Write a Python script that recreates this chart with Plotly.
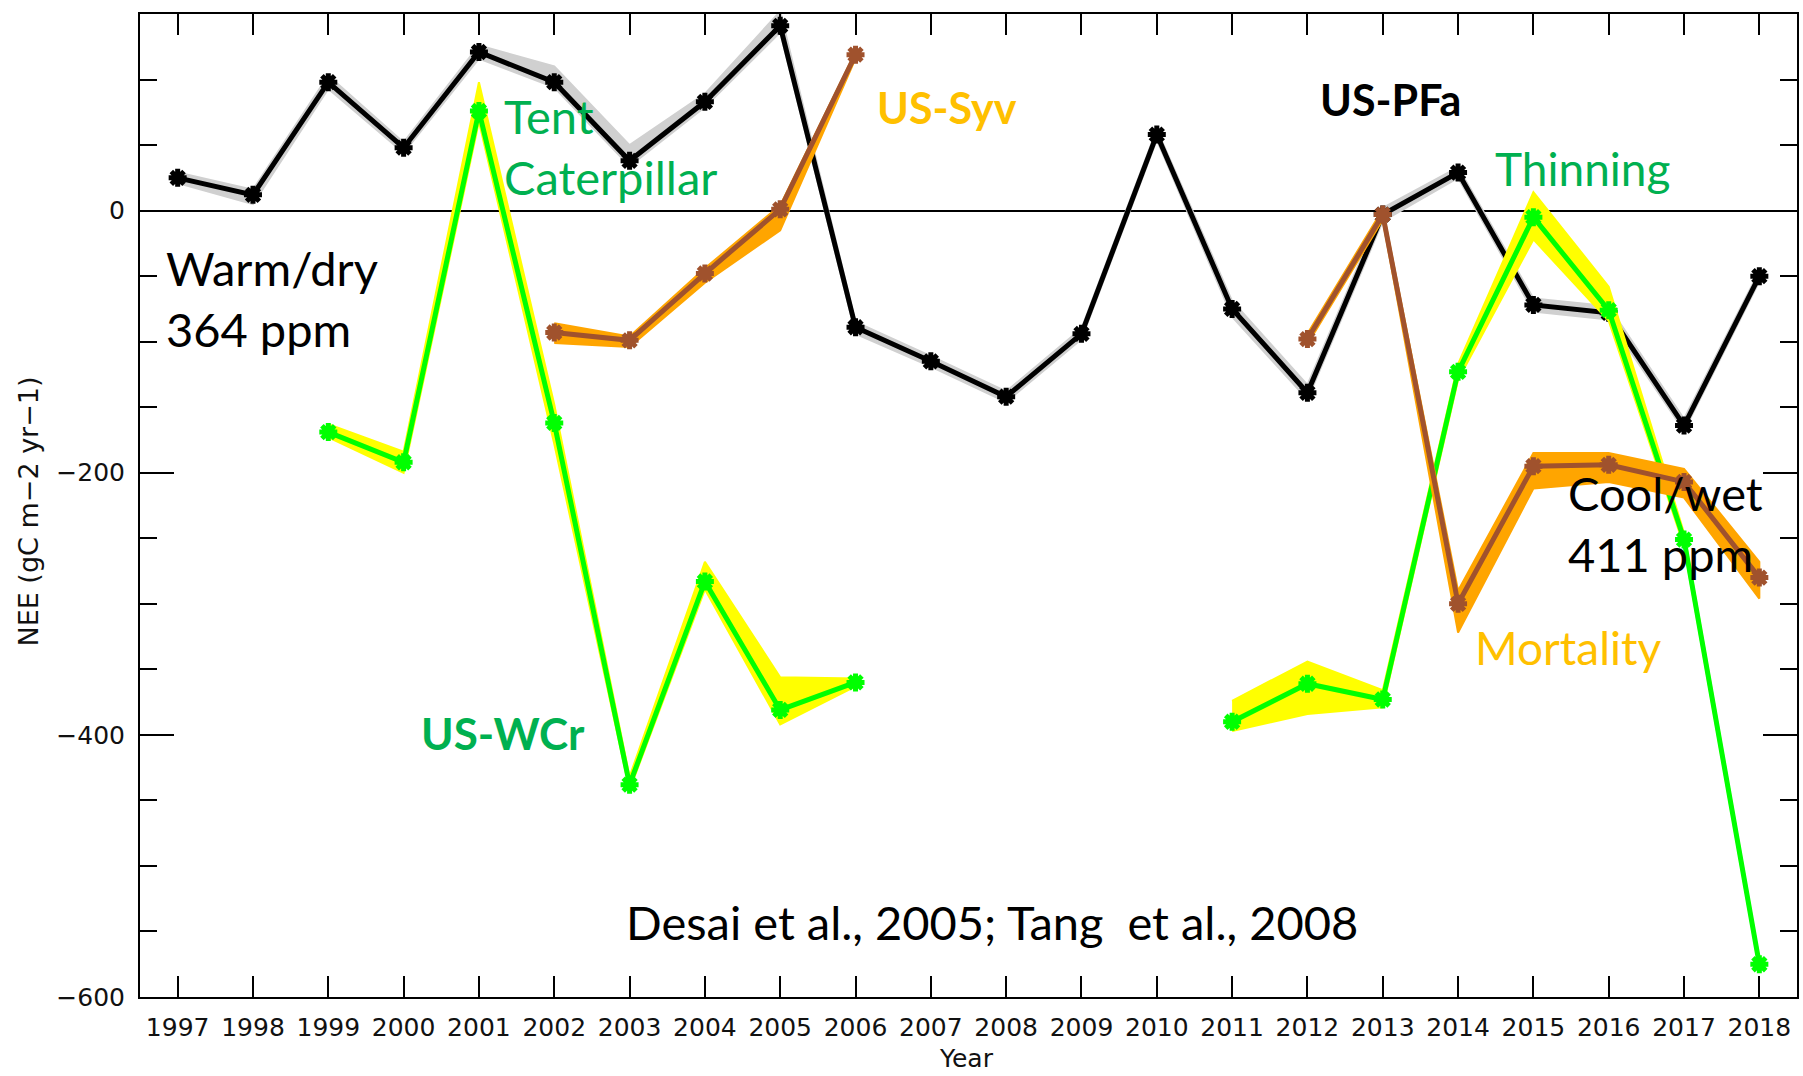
import plotly.graph_objects as go

# ---------------- data ----------------
years = list(range(1997, 2019))

# US-PFa (black) and its uncertainty band (grey)
pfa_nee = [25, 12, 98, 48, 121, 98, 38, 83, 141, -89, -115, -142, -94, 58, -75, -139, -3, 29, -72, -78, -164, -50]
pfa_upper = [29, 16, 103, 52, 126, 110, 50, 89, 152, -85, -111, -138, -90, 62, -69, -133, 2, 33, -67, -73, -159, -46]
pfa_lower = [21, 5, 93, 44, 116, 94, 34, 79, 136, -94, -119, -146, -98, 54, -81, -144, -8, 25, -77, -83, -168, -54]

# US-WCr (green) and band (yellow)
wcr_nee = [None, None, -169, -192, 76, -162, -438, -283, -381, -360,
           None, None, None, None, -390, -361, -373, -123, -5, -76, -251, -575]
wcr_upper = [None, None, -163, -184, 98, -148, -432, -268, -356, -357,
             None, None, None, None, -374, -344, -366, -117, 14, -58, -246, -571]
wcr_lower = [None, None, -173, -200, 68, -178, -442, -289, -392, -363,
             None, None, None, None, -397, -384, -379, -129, -22, -84, -256, -579]

# US-Syv (brown) and band (orange)
syv_nee = [None, None, None, None, None, -93, -99, -48, 1, 119,
           None, None, None, None, None, -98, -3, -300, -195, -194, -207, -280]
syv_upper = [None, None, None, None, None, -86, -96, -44, 4, 121,
             None, None, None, None, None, -94, 1, -290, -185, -185, -197, -268]
syv_lower = [None, None, None, None, None, -101, -104, -55, -15, 116,
             None, None, None, None, None, -102, -7, -322, -212, -207, -219, -296]

y_ticks_major = 200
y_ticks_minor = 50


def segments(xs, lo, hi):
    """Split into contiguous runs where values exist."""
    segs, cur = [], []
    for x, l, h in zip(xs, lo, hi):
        if l is None or h is None:
            if cur:
                segs.append(cur)
                cur = []
        else:
            cur.append((x, l, h))
    if cur:
        segs.append(cur)
    return segs


def band_traces(xs, lo, hi, color):
    traces = []
    for seg in segments(xs, lo, hi):
        sx = [p[0] for p in seg]
        su = [p[2] for p in seg]
        sl = [p[1] for p in seg]
        traces.append(go.Scatter(
            x=sx + sx[::-1], y=su + sl[::-1], fill="toself", fillcolor=color,
            line=dict(color=color, width=2), mode="lines", hoverinfo="skip",
            showlegend=False))
    return traces


def line_trace(xs, ys, color):
    return go.Scatter(
        x=xs, y=ys, mode="lines+markers", connectgaps=False, showlegend=False,
        line=dict(color=color, width=5),
        marker=dict(symbol="asterisk-open", size=15, color=color,
                    line=dict(color=color, width=5)))


fig = go.Figure()
for t in band_traces(years, pfa_lower, pfa_upper, "#D0D0D0"):
    fig.add_trace(t)
fig.add_trace(line_trace(years, pfa_nee, "#000000"))
for t in band_traces(years, wcr_lower, wcr_upper, "#FFFF00"):
    fig.add_trace(t)
fig.add_trace(line_trace(years, wcr_nee, "#00FF00"))
for t in band_traces(years, syv_lower, syv_upper, "#FFA500"):
    fig.add_trace(t)
fig.add_trace(line_trace(years, syv_nee, "#A0522D"))

tick_font = dict(family="DejaVu Sans, sans-serif", size=25, color="#111111")
ann_font = "Lato, Noto Sans, sans-serif"

fig.update_layout(
    width=1803, height=1076,
    margin=dict(l=140, r=4, t=14, b=79),
    paper_bgcolor="white", plot_bgcolor="white",
    xaxis=dict(
        range=[1996.5, 2018.5], tickmode="linear", tick0=1997, dtick=1,
        ticks="inside", ticklen=21, tickwidth=2, tickcolor="black",
        showline=True, linewidth=2, linecolor="black", mirror="ticks",
        showgrid=False, zeroline=False, tickfont=tick_font, ticklabelstandoff=7,
    ),
    yaxis=dict(
        range=[-600, 150], tickmode="linear", tick0=0, dtick=y_ticks_major,
        ticks="inside", ticklen=34, tickwidth=2, tickcolor="black",
        minor=dict(dtick=y_ticks_minor, ticks="inside", ticklen=17, tickwidth=2,
                   tickcolor="black", showgrid=False),
        showline=True, linewidth=2, linecolor="black", mirror="ticks",
        showgrid=False, zeroline=True, zerolinecolor="black", zerolinewidth=2,
        tickfont=tick_font, ticklabelstandoff=8,
    ),
)

annotations = [
    dict(text="NEE (gC m−2 yr−1)", xref="paper", yref="paper", x=-0.0675, y=0.494,
         xanchor="center", yanchor="middle", textangle=-90,
         font=dict(family="DejaVu Sans, sans-serif", size=27, color="#111111")),
    dict(text="Year", xref="paper", yref="paper", x=0.4985, y=-0.0625,
         xanchor="center", yanchor="middle", font=tick_font),
    dict(text="Tent<br>Caterpillar", x=2001.31, y=49, xanchor="left",
         font=dict(family=ann_font, size=47, color="#00B050"), align="left"),
    dict(text="<b>US-Syv</b>", x=2006.26, y=79, xanchor="left",
         font=dict(family=ann_font, size=43, color="#FFC000")),
    dict(text="<b>US-PFa</b>", x=2012.14, y=85, xanchor="left",
         font=dict(family=ann_font, size=43, color="#000000")),
    dict(text="Thinning", x=2014.47, y=32, xanchor="left",
         font=dict(family=ann_font, size=46, color="#00B050")),
    dict(text="Warm/dry<br>364 ppm", x=1996.82, y=-66.7, xanchor="left",
         font=dict(family=ann_font, size=47, color="#000000"), align="left"),
    dict(text="<b>US-WCr</b>", x=2000.21, y=-398.5, xanchor="left",
         font=dict(family=ann_font, size=44, color="#00B050")),
    dict(text="Mortality", x=2014.2, y=-333, xanchor="left",
         font=dict(family=ann_font, size=46, color="#FFC000")),
    dict(text="Cool/wet<br>411 ppm", x=2015.43, y=-239, xanchor="left",
         font=dict(family=ann_font, size=47, color="#000000"), align="left"),
    dict(text="Desai et al., 2005; Tang  et al., 2008", x=2002.92, y=-543, xanchor="left",
         font=dict(family=ann_font, size=47, color="#000000")),
]
for a in annotations:
    a.setdefault("showarrow", False)
    a.setdefault("xref", "x")
    a.setdefault("yref", "y")
    fig.add_annotation(**a)

fig.write_html("out.html")
